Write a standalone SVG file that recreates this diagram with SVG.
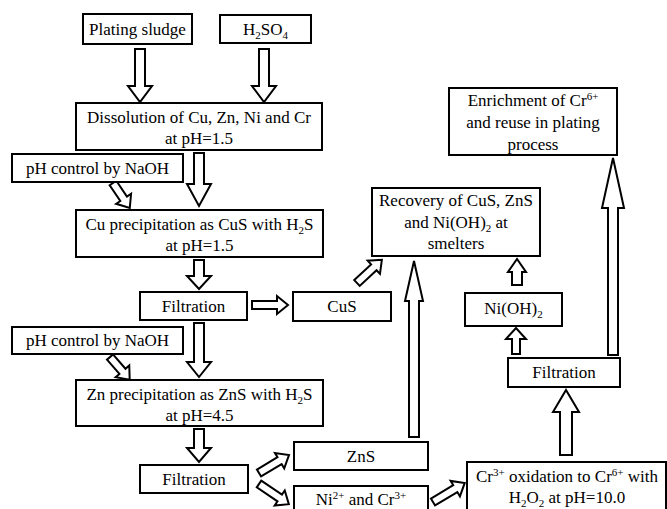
<svg xmlns="http://www.w3.org/2000/svg" width="667" height="509" viewBox="0 0 667 509">
<style>
.box{fill:#fff;stroke:#000;stroke-width:2}
.arr{fill:#fff;stroke:#000;stroke-width:2;stroke-linejoin:miter}
text{font-family:"Liberation Serif","Times New Roman",serif;font-size:17px;text-anchor:middle;fill:#000}
.s{font-size:11px}
</style>
<rect width="667" height="509" fill="#fff"/>
<g id="connectors">
<polygon class="arr" points="135,49 145,49 145,86 152,86 140,102 128,86 135,86"/>
<polygon class="arr" points="259,49 269,49 269,86 276,86 264,102 252,86 259,86"/>
<polygon class="arr" points="194,153 204,153 204,184 211,184 199,206 187,184 194,184"/>
<polygon class="arr" transform="translate(113,183) rotate(56)" points="0,-4 19,-4 19,-9 30,0 19,9 19,4 0,4"/>
<polygon class="arr" points="194,260 204,260 204,276 211,276 199,289 187,276 194,276"/>
<polygon class="arr" transform="translate(252,305)" points="0,-4 25,-4 25,-9 36,0 25,9 25,4 0,4"/>
<polygon class="arr" transform="translate(357,283) rotate(-43)" points="0,-4 23,-4 23,-9 34,0 23,9 23,4 0,4"/>
<polygon class="arr" points="194,323 204,323 204,362 211,362 199,377 187,362 194,362"/>
<polygon class="arr" transform="translate(110,357) rotate(49)" points="0,-4 19,-4 19,-9 30,0 19,9 19,4 0,4"/>
<polygon class="arr" points="194,429 204,429 204,448 211,448 199,462 187,448 194,448"/>
<polygon class="arr" transform="translate(259,473) rotate(-31)" points="0,-4 24,-4 24,-9 35,0 24,9 24,4 0,4"/>
<polygon class="arr" transform="translate(259,484) rotate(34)" points="0,-4 25,-4 25,-9 36,0 25,9 25,4 0,4"/>
<polygon class="arr" points="409,437 419,437 419,301 423,301 414,261 405,301 409,301"/>
<polygon class="arr" transform="translate(433,502) rotate(-31)" points="0,-4 26,-4 26,-9 37,0 26,9 26,4 0,4"/>
<polygon class="arr" points="560,455 572,455 572,412 579,412 566,390 553,412 560,412"/>
<polygon class="arr" points="512,354 520,354 520,339 526,339 516,328 506,339 512,339"/>
<polygon class="arr" points="512,285 522,285 522,272 526,272 517,259 508,272 512,272"/>
<polygon class="arr" points="608,355 618,355 618,208 624,208 613,158 602,208 608,208"/>
</g>
<g id="plating-sludge"><rect class="box" x="83" y="14" width="109" height="30"/><text x="137.5" y="35">Plating sludge</text></g>
<g id="h2so4"><rect class="box" x="220" y="15" width="91" height="28"/><text x="265.5" y="35">H<tspan class="s" dy="4">2</tspan><tspan dy="-4">SO</tspan><tspan class="s" dy="4">4</tspan></text></g>
<g id="dissolution"><rect class="box" x="76" y="103" width="246" height="47"/><text x="199" y="123">Dissolution of Cu, Zn, Ni and Cr</text><text x="199" y="144">at pH=1.5</text></g>
<g id="ph-control-1"><rect class="box" x="12" y="154" width="171" height="28"/><text x="97.5" y="174">pH control by NaOH</text></g>
<g id="cu-precipitation"><rect class="box" x="76" y="210" width="247" height="47"/><text x="199.5" y="230">Cu precipitation as CuS with H<tspan class="s" dy="4">2</tspan><tspan dy="-4">S</tspan></text><text x="199.5" y="251">at pH=1.5</text></g>
<g id="filtration-1"><rect class="box" x="140" y="292" width="107" height="28"/><text x="193.5" y="312">Filtration</text></g>
<g id="cus"><rect class="box" x="293" y="292" width="98" height="29"/><text x="342" y="312">CuS</text></g>
<g id="recovery"><rect class="box" x="372" y="188" width="168" height="68"/><text x="456" y="206">Recovery of CuS, ZnS</text><text x="456" y="228">and Ni(OH)<tspan class="s" dy="4">2</tspan><tspan dy="-4"> at</tspan></text><text x="456" y="249">smelters</text></g>
<g id="ph-control-2"><rect class="box" x="12" y="327" width="171" height="27"/><text x="97.5" y="346">pH control by NaOH</text></g>
<g id="zn-precipitation"><rect class="box" x="76" y="380" width="247" height="46"/><text x="199.5" y="400">Zn precipitation as ZnS with H<tspan class="s" dy="4">2</tspan><tspan dy="-4">S</tspan></text><text x="199.5" y="421">at pH=4.5</text></g>
<g id="filtration-2"><rect class="box" x="140" y="465" width="108" height="28"/><text x="194" y="485">Filtration</text></g>
<g id="zns"><rect class="box" x="294" y="442" width="134" height="28"/><text x="361" y="462">ZnS</text></g>
<g id="ni-cr"><rect class="box" x="294" y="486" width="134" height="30"/><text x="361" y="505">Ni<tspan class="s" dy="-6">2+</tspan><tspan dy="6"> and Cr</tspan><tspan class="s" dy="-6">3+</tspan></text></g>
<g id="cr-oxidation"><rect class="box" x="467" y="462" width="199" height="52"/><text x="567" y="482">Cr<tspan class="s" dy="-6">3+</tspan><tspan dy="6"> oxidation to Cr</tspan><tspan class="s" dy="-6">6+</tspan><tspan dy="6"> with</tspan></text><text x="567" y="503">H<tspan class="s" dy="4">2</tspan><tspan dy="-4">O</tspan><tspan class="s" dy="4">2</tspan><tspan dy="-4"> at pH=10.0</tspan></text></g>
<g id="filtration-3"><rect class="box" x="508" y="358" width="112" height="29"/><text x="564" y="378">Filtration</text></g>
<g id="nioh2"><rect class="box" x="465" y="293" width="97" height="33"/><text x="513.5" y="314">Ni(OH)<tspan class="s" dy="4">2</tspan></text></g>
<g id="enrichment"><rect class="box" x="449" y="88" width="168" height="67"/><text x="533" y="106">Enrichment of Cr<tspan class="s" dy="-6">6+</tspan></text><text x="533" y="128">and reuse in plating</text><text x="533" y="150">process</text></g>
</svg>
